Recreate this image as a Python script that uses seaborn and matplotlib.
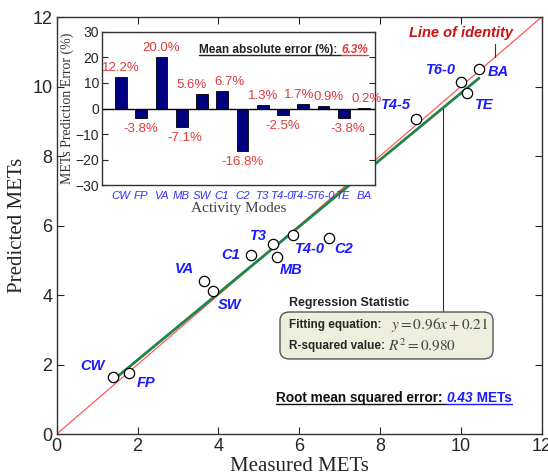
import numpy as np
import pandas as pd
import seaborn as sns
import matplotlib.pyplot as plt
from matplotlib.patches import FancyBboxPatch
from matplotlib.lines import Line2D
from matplotlib.transforms import IdentityTransform

# activity modes, in the order of the inset bar chart
modes = ["CW", "FP", "VA", "MB", "SW", "C1", "C2", "T3", "T4-0", "T4-5", "T6-0", "TE", "BA"]
measured = [1.40, 1.79, 3.64, 5.45, 3.86, 4.81, 6.73, 5.34, 5.85, 8.88, 10.00, 10.16, 10.45]
predicted = [1.65, 1.75, 4.40, 5.09, 4.12, 5.15, 5.64, 5.47, 5.73, 9.06, 10.12, 9.82, 10.50]
errors = [12.2, -3.8, 20.0, -7.1, 5.6, 6.7, -16.8, 1.3, -2.5, 1.7, 0.9, -3.8, 0.2]

slope, intercept = 0.96, 0.21
r_squared = 0.980
mae = 6.3
rmse = 0.43

# label offsets (points) for the scatter labels
offsets = {"CW": (-15, 8), "FP": (12, -7), "VA": (-14, 9), "SW": (12, -10),
           "C1": (-15, 0), "T3": (-10, 6), "MB": (10, -9), "T4-0": (12, -10),
           "C2": (11, -8), "T4-5": (-14, 10), "T6-0": (-14, 9), "TE": (12, -9),
           "BA": (14, -2)}
# sideways nudges (bar widths) for the inset percentage labels
bar_nudge = {"SW": -0.5, "C1": 0.35, "MB": 0.15, "T4-5": -0.2, "T6-0": 0.25,
             "TE": 0.2, "BA": 0.15}

df = pd.DataFrame({"mode": modes, "measured": measured, "predicted": predicted, "error": errors})

sns.set_style("ticks")
plt.rcParams["font.family"] = ["Liberation Sans", "DejaVu Sans"]
plt.rcParams["mathtext.fontset"] = "stix"
serif = ["Liberation Serif", "DejaVu Serif"]
blue = "#1a1aff"
red_txt = "#e0393e"

fig = plt.figure(figsize=(5.48, 4.76), dpi=100)
ax = fig.add_axes([0.1035, 0.0882, 0.885, 0.876])

# identity and fitted lines
ax.plot([0, 12], [0, 12], color="#ff5a5a", lw=0.9, zorder=2)
fx = np.array([min(measured), max(measured)])
ax.plot(fx, slope * fx + intercept, color="#1e8449", lw=2, zorder=3)
sns.scatterplot(data=df, x="measured", y="predicted", ax=ax, s=55, marker="o",
                facecolor="white", edgecolor="black", linewidth=0.9, zorder=4)

for m, x, y in zip(modes, measured, predicted):
    ax.annotate(m, (x, y), xytext=offsets[m], textcoords="offset points",
                ha="center", va="center", color=blue, fontsize=10.5,
                fontweight="bold", fontstyle="italic")

ax.set_xlim(0, 12)
ax.set_ylim(0, 12)
ax.set_xticks(range(0, 13, 2))
ax.set_yticks(range(0, 13, 2))
ax.tick_params(direction="in", top=True, right=True, length=5, width=0.8, labelsize=13, pad=3)
for s in ax.spines.values():
    s.set_color("#333333")
    s.set_linewidth(1)
ax.set_xlabel("Measured METs", family=serif, fontsize=15, labelpad=1.5)
ax.set_ylabel("Predicted METs", family=serif, fontsize=15, labelpad=4)

# line of identity leader
ax.text(10.0, 11.55, "Line of identity", color="#cc1111", fontsize=10.5,
        fontweight="bold", fontstyle="italic", ha="center", va="center")
ax.plot([10.84, 10.84], [11.22, 10.84], color="#333333", lw=0.8)

# leader from fit line to regression box
lx = 9.55
ax.plot([lx, lx], [slope * lx + intercept, 3.51], color="#333333", lw=0.8, zorder=2)

box = FancyBboxPatch((0.4604, 0.180), 0.4392, 0.1126, transform=ax.transAxes,
                     boxstyle="round,pad=0,rounding_size=0.02",
                     facecolor="#eeeedd", edgecolor="#555555", lw=1, zorder=5)
ax.add_patch(box)
ax.text(0.478, 0.315, "Regression Statistic", transform=ax.transAxes, fontsize=9,
        fontweight="bold", va="center", zorder=6)
ax.text(0.478, 0.262, "Fitting equation:", transform=ax.transAxes, fontsize=8.5,
        fontweight="bold", va="center", zorder=6)
ax.text(0.69, 0.262, rf"$y = {slope:.2f}x + {intercept:.2f}$", transform=ax.transAxes,
        fontsize=11, va="center", color="#444444", zorder=6)
ax.text(0.478, 0.211, "R-squared value:", transform=ax.transAxes, fontsize=8.5,
        fontweight="bold", va="center", zorder=6)
ax.text(0.684, 0.211, rf"$R^2 = {r_squared:.3f}$", transform=ax.transAxes,
        fontsize=11, va="center", color="#444444", zorder=6)

# inset bar chart
ax2 = fig.add_axes([0.186, 0.611, 0.498, 0.322])
ax2.set_facecolor("white")
sns.barplot(x=modes, y=errors, color="#000080", saturation=1, width=0.58,
            edgecolor="black", linewidth=0.6, ax=ax2)
ax2.axhline(0, color="black", lw=1)
for i, (m, v) in enumerate(zip(modes, errors)):
    xi = i + bar_nudge.get(m, 0)
    yi = v + 3.7 if v >= 0 else v - 4.3
    ax2.text(xi, yi, f"{v:.1f}%", ha="center", va="center", color=red_txt, fontsize=9.5)
ax2.set_xlim(-0.94, 12.54)
ax2.set_ylim(-30, 30)
ax2.set_yticks(range(-30, 31, 10))
ax2.tick_params(axis="y", direction="in", right=True, length=4, labelsize=10, pad=2)
ax2.tick_params(axis="x", length=0, labelsize=8.2, pad=4, labelcolor="#3333ff")
for lbl in ax2.get_xticklabels():
    lbl.set_fontstyle("italic")
for s in ax2.spines.values():
    s.set_color("#333333")
    s.set_linewidth(1)
ax2.set_ylabel("METs Prediction Error (%)", family=serif, fontsize=10, color="#333333", labelpad=1)
ax2.set_xlabel("Activity Modes", family=serif, fontsize=11, color="#404040", labelpad=1)


def rich(x, y, parts, trans, fontsize):
    # place text pieces one after another, underlined
    fig.canvas.draw()
    r = fig.canvas.get_renderer()
    x0, y0 = trans.transform((x, y))
    for s, color, style in parts:
        t = fig.text(x0, y0, s, transform=IdentityTransform(), color=color,
                     fontsize=fontsize, fontweight="bold", fontstyle=style,
                     va="baseline", zorder=10)
        bb = t.get_window_extent(r)
        fig.add_artist(Line2D([bb.x0, bb.x1], [y0 - 2, y0 - 2], color=color, lw=1,
                              transform=IdentityTransform(), zorder=10))
        x0 = bb.x1


rich(0.357, 0.86, [("Mean absolute error (%): ", "#222222", "normal"),
                   (f"{mae}%", "#e0393e", "italic")], ax2.transAxes, 8.5)
rich(0.452, 0.077, [("Root mean squared error: ", "#111111", "normal"),
                    (f"{rmse}", blue, "italic"), (" METs", blue, "normal")], ax.transAxes, 9.8)

plt.savefig("out.png", dpi=100)
